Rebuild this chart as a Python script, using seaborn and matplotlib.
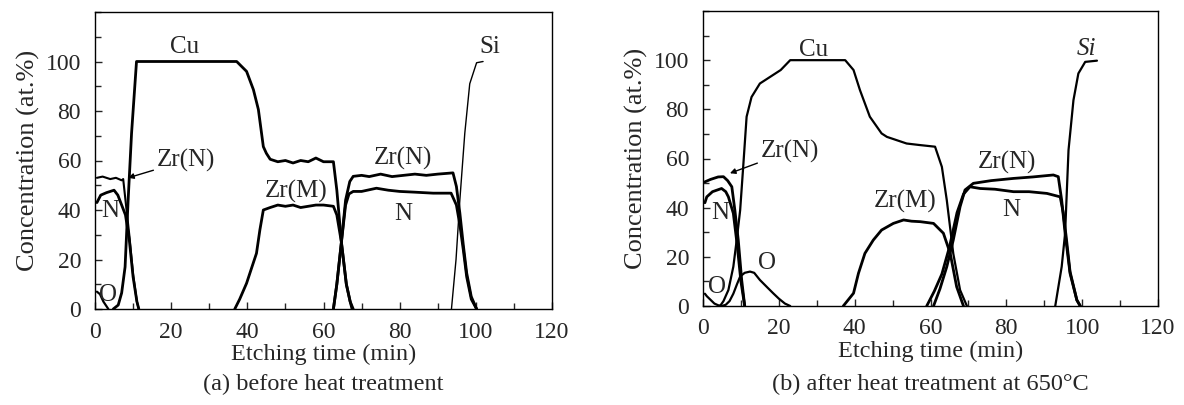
import numpy as np
import seaborn as sns
import matplotlib.pyplot as plt
from matplotlib.ticker import MultipleLocator

# ---- panel (a): before heat treatment ----
a_o_t = [0.5, 1.3, 2.2, 3.5]
a_o = [7, 6, 3, 0]
a_zrn1_t = [0.5, 2, 4, 5.5, 7, 7.4, 8, 9, 10, 11, 11.5]
a_zrn1 = [53, 53.5, 52.5, 53, 52, 52.5, 44, 30, 14, 3, 0]
a_n1_t = [0.5, 1.5, 3, 5, 6, 7, 8, 9, 10, 11, 11.5]
a_n1 = [43, 46, 47, 48, 46, 42, 38, 28, 13, 3, 0]
a_cu_t = [4.8, 6.1, 7, 7.9, 8.7, 9.6, 10.9, 20, 30, 37.2, 39.8, 41.6, 42.9, 44.2, 45,
          46, 48, 50, 52, 54, 56, 58, 60, 62.6, 63.5, 64.7, 66, 67, 67.8]
a_cu = [0, 1.6, 6.5, 17, 44, 71, 100, 100, 100, 100, 96, 88.6, 80.6, 65.6, 62.9,
        60.5, 59.5, 60, 59, 60, 59.5, 61, 59.5, 59.5, 48, 27, 10, 3, 0]
a_zrm_t = [36.7, 38, 39.8, 41, 42.4, 43.3, 44.2, 46, 48, 50, 52, 54, 56, 58, 60,
           62.6, 63.5, 64.7, 66, 67, 67.5]
a_zrm = [0, 4, 10.4, 16, 22.5, 32, 40, 41, 42, 41.5, 42, 41, 41.5, 42, 42,
         41.5, 38, 27, 10, 3, 0]
a_zrn2_t = [62.6, 63.5, 64.7, 65.8, 66.9, 67.8, 70, 72, 75, 78, 81, 84, 87, 90, 94,
            94.9, 95.8, 96.7, 97.6, 98.8, 100.2]
a_zrn2 = [0, 10, 27, 44, 51.5, 53.6, 54, 53.5, 54.5, 53.5, 54, 54.5, 54, 54.5, 55,
          49.5, 38.8, 26, 14.5, 5, 0]
a_n2_t = [62.6, 63.5, 64.7, 65.8, 66.7, 67.8, 70, 73.9, 77, 80, 84, 88.8, 93.5,
          94.9, 95.8, 96.7, 97.6, 98.8, 100.2]
a_n2 = [0, 10, 27, 42, 46.5, 47.5, 47.5, 48.8, 48, 47.5, 47.2, 46.8, 46.8,
        42, 34, 24, 13, 4, 0]
a_si_t = [93.6, 94.8, 95.8, 97.1, 98.4, 100.2, 101.9]
a_si = [0, 20, 44, 71, 91, 99.5, 100]

# ---- panel (b): after heat treatment at 650 C ----
b_o_t = [0.5, 1, 2, 3, 4, 5, 6, 7, 8, 9, 9.8, 11, 12.4, 13.5, 15, 17, 18.5, 20,
         21.6, 23]
b_o = [5, 4, 2.5, 1, 0.3, 0, 0.5, 2, 5, 9, 12, 13.5, 14, 13.5, 10.6, 7.5, 5.2,
       3, 1, 0]
b_zrn1_t = [0.5, 2, 4, 5.4, 6.5, 7.6, 8.4, 9.3, 10.2, 11]
b_zrn1 = [50.5, 51.5, 52.5, 52.6, 51, 48.5, 39, 26.8, 10.6, 0]
b_n1_t = [0.5, 1, 2.5, 4.9, 6, 6.7, 8, 9, 10, 11]
b_n1 = [42, 44.4, 46.5, 47.8, 46.5, 44.4, 37.7, 25, 10, 0]
b_cu_t = [4.5, 5.4, 6.7, 8, 8.9, 9.8, 10.6, 11.5, 12.8, 15, 18.5, 20.5, 23, 30,
          37.5, 39.7, 41.4, 42.7, 44, 47.1, 48.5, 51, 53.7, 57, 61.2, 63, 64.3,
          66, 67.8, 69.6]
b_cu = [0, 2, 6.5, 16, 27, 39, 56.6, 77, 85, 90.5, 94, 96, 100, 100,
        100, 96, 87.8, 82.4, 77, 70.2, 68.8, 67.5, 66.1, 65.5, 64.8, 56.6, 43,
        21.4, 6.5, 0]
b_zrm_t = [37, 39.7, 41, 42.7, 44.9, 47.1, 50.2, 52.9, 55, 57.3, 60.8, 63.4,
           65.2, 66.9, 68.7]
b_zrm = [0, 5.2, 13.3, 21.4, 26.8, 30.9, 33.6, 35, 34.5, 34.3, 33.6, 29.6,
         21.4, 7.8, 0]
b_zrn2_t = [60.8, 62.5, 64.3, 66, 67.8, 69.1, 71.3, 76, 81.9, 87, 92.4, 93.7,
            94.6, 95.5, 96.8, 98.6, 99.5]
b_zrn2 = [0, 7, 16, 26.8, 40.4, 47.2, 49.9, 51, 51.9, 52.5, 53.3, 52.6,
          43, 29.6, 13.3, 2.4, 0]
b_n2_t = [59, 61, 63, 65, 67, 68.7, 70.4, 73.1, 77, 81.9, 86, 90.7, 94.2,
          95, 95.8, 96.8, 98.6, 99.5]
b_n2 = [0, 6, 13, 24, 38, 45.5, 48.5, 47.8, 47.5, 46.5, 46.5, 45.8, 44.4,
        38, 28, 14, 2.4, 0]
b_si_t = [92.9, 94.6, 95.5, 96.4, 97.7, 99, 100.8, 103.9]
b_si = [0, 16, 29.6, 63.4, 83.7, 94.6, 99.3, 99.8]

sns.set_style("ticks")
plt.rcParams['font.family'] = ['Liberation Serif', 'DejaVu Serif']

fig = plt.figure(figsize=(11.84, 4.05), dpi=100)
ax_a = fig.add_axes([95 / 1184, 1 - 309 / 405, (552 - 95) / 1184, (309 - 12) / 405])
ax_b = fig.add_axes([703 / 1184, 1 - 306 / 405, (1158 - 703) / 1184, (306 - 11) / 405])

FS = 18      # curve labels
TFS = 17     # tick labels
LFS = 17.5   # axis labels / captions
LW = 2.0


def draw(ax, t, v, lw=LW):
    sns.lineplot(x=t, y=v, ax=ax, color='black', lw=lw, sort=False,
                 estimator=None, solid_joinstyle='round')


# panel a lines
draw(ax_a, a_o_t, a_o, 1.6)
draw(ax_a, a_zrn1_t, a_zrn1, 1.5)
draw(ax_a, a_n1_t, a_n1)
draw(ax_a, a_cu_t, a_cu)
draw(ax_a, a_zrm_t, a_zrm)
draw(ax_a, a_zrn2_t, a_zrn2)
draw(ax_a, a_n2_t, a_n2)
draw(ax_a, a_si_t, a_si, 1.0)

# panel b lines
draw(ax_b, b_o_t, b_o, 1.6)
draw(ax_b, b_zrn1_t, b_zrn1)
draw(ax_b, b_n1_t, b_n1)
draw(ax_b, b_cu_t, b_cu, 1.6)
draw(ax_b, b_zrm_t, b_zrm)
draw(ax_b, b_zrn2_t, b_zrn2)
draw(ax_b, b_n2_t, b_n2)
draw(ax_b, b_si_t, b_si, 1.6)

# labels panel a
ax_a.text(23.6, 106, 'Cu', fontsize=FS, ha='center', va='center')
ax_a.text(103.7, 106, 'Si', fontsize=FS, ha='center', va='center')
ax_a.text(80.9, 61, 'Zr(N)', fontsize=FS, ha='center', va='center')
ax_a.text(80.9, 38.5, 'N', fontsize=FS, ha='center', va='center')
ax_a.text(52.9, 47.5, 'Zr(M)', fontsize=FS, ha='center', va='center')
ax_a.text(3.9, 39.5, 'N', fontsize=FS, ha='center', va='center')
ax_a.text(3.5, 5.5, 'O', fontsize=FS, ha='center', va='center')
ax_a.annotate('Zr(N)', xy=(8.7, 53), xytext=(16.2, 60), fontsize=FS,
              ha='left', va='center',
              arrowprops=dict(arrowstyle='-|>', color='black', lw=1.0,
                              shrinkA=0, shrinkB=0, mutation_scale=8))

# labels panel b
ax_b.text(29.1, 104, 'Cu', fontsize=FS, ha='center', va='center')
ax_b.text(101.2, 104.5, 'Si', fontsize=FS, ha='center', va='center', style='italic')
ax_b.text(80.1, 58.5, 'Zr(N)', fontsize=FS, ha='center', va='center')
ax_b.text(81.4, 39, 'N', fontsize=FS, ha='center', va='center')
ax_b.text(53.3, 42.5, 'Zr(M)', fontsize=FS, ha='center', va='center')
ax_b.text(4.5, 37.7, 'N', fontsize=FS, ha='center', va='center')
ax_b.text(3.6, 7.8, 'O', fontsize=FS, ha='center', va='center')
ax_b.text(16.8, 17.4, 'O', fontsize=FS, ha='center', va='center')
ax_b.annotate('Zr(N)', xy=(7.1, 54), xytext=(15.2, 63), fontsize=FS,
              ha='left', va='center',
              arrowprops=dict(arrowstyle='-|>', color='black', lw=1.0,
                              shrinkA=0, shrinkB=0, mutation_scale=8))

for ax in (ax_a, ax_b):
    ax.set_xlim(0, 120)
    ax.set_ylim(0, 120)
    ax.set_xticks(range(0, 121, 20))
    ax.set_yticks(range(0, 101, 20))
    ax.xaxis.set_minor_locator(MultipleLocator(10))
    ax.yaxis.set_minor_locator(MultipleLocator(10))
    ax.tick_params(which='both', direction='in', labelsize=TFS, width=1,
                   top=False, right=False)
    ax.tick_params(axis='x', pad=9)
    ax.tick_params(axis='y', pad=10)
    ax.tick_params(which='major', length=5)
    ax.tick_params(which='minor', length=4)
    for s in ax.spines.values():
        s.set_visible(True)
        s.set_linewidth(1.0)
        s.set_color('black')
    ax.set_xlabel('Etching time (min)', fontsize=LFS, labelpad=1)
    ax.set_ylabel('Concentration (at.%)', fontsize=19, labelpad=4)

fig.text((95 + 552) / 2 / 1184, 1 - 384 / 405, '(a) before heat treatment',
         fontsize=LFS, ha='center', va='center')
fig.text((703 + 1158) / 2 / 1184, 1 - 384 / 405, '(b) after heat treatment at 650°C',
         fontsize=LFS, ha='center', va='center')

fig.savefig('out.png', dpi=100, facecolor='white')
